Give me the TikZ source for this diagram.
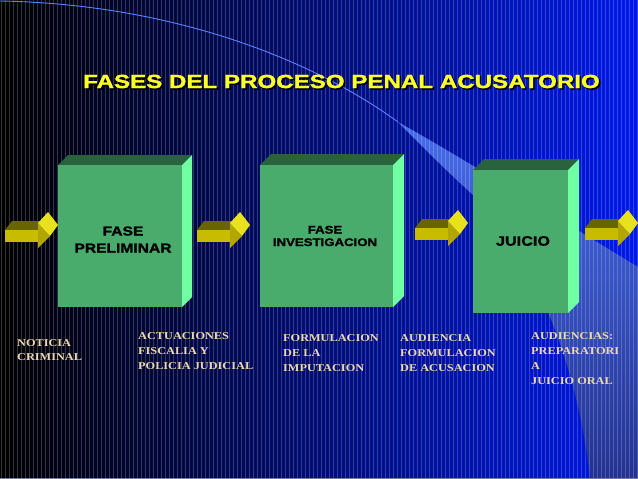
\documentclass[tikz,border=0pt]{standalone}
\usepackage{fontspec}
\newfontfamily\sansX[FakeStretch=1.2,FakeBold=1.6]{Liberation Sans Bold}
\newfontfamily\titleX[FakeStretch=1.27,FakeBold=1.4]{Liberation Sans Bold}
\newfontfamily\serifX[FakeStretch=1.17]{Liberation Serif}
\definecolor{bgmid}{RGB}{16,16,120}
\definecolor{bgright}{RGB}{0,25,235}
\definecolor{curvecol}{RGB}{90,130,255}
\definecolor{regtop}{RGB}{70,108,235}
\definecolor{regmid}{RGB}{42,62,160}
\definecolor{regbot}{RGB}{35,50,145}
\definecolor{boxfront}{RGB}{74,172,108}
\definecolor{boxtop}{RGB}{42,98,62}
\definecolor{boxside}{RGB}{112,255,162}
\definecolor{arrtop}{RGB}{105,100,0}
\definecolor{arrfront}{RGB}{200,188,0}
\definecolor{arrlow}{RGB}{180,166,0}
\definecolor{arrhead}{RGB}{232,226,30}
\definecolor{titlecol}{RGB}{255,255,40}
\definecolor{labcol}{RGB}{236,216,172}
\definecolor{bottomline}{RGB}{120,125,165}
\newcommand\greenbox[5]{%
  \fill[boxtop] (#1,#2) -- (#1+#5,#2-#5) -- (#3+#5,#2-#5) -- (#3,#2) -- cycle;
  \fill[boxside] (#3,#2) -- (#3+#5,#2-#5) -- (#3+#5,#4-#5) -- (#3,#4) -- cycle;
  \fill[boxfront] (#1,#2) rectangle (#3,#4);}
\newcommand\yarrow[2]{%
  \begin{scope}[shift={(#1,#2)}]
  \fill[arrtop] (0,0) -- (7,-9) -- (40,-9) -- (33,0) -- cycle;
  \fill[arrlow] (33,-7) -- (45,6) -- (33,18) -- cycle;
  \fill[arrfront] (0,0) rectangle (33,12);
  \fill[arrhead] (33,-7) -- (43,-18) -- (53,-5) -- (45,6) -- cycle;
  \end{scope}}
\tikzset{
  boxtext/.style={inner sep=0pt, align=center, text=black},
  lab/.style={inner sep=0pt, anchor=north west, align=left, text=labcol,
    font=\serifX\bfseries\fontsize{10.5}{15}\selectfont},
  titletext/.style={inner sep=0pt, font=\titleX\fontsize{19}{22}\selectfont},
}
\begin{document}
\begin{tikzpicture}[x=1pt,y=-1pt]
\useasboundingbox (0,0) rectangle (638,479);
% background
\shade[left color=black, middle color=bgmid, right color=bgright] (0,0) rectangle (638,479);
% lighter swoosh region
\shade[top color=regtop, middle color=regmid, bottom color=regbot]
  (398,122) .. controls (480,168) and (560,220) .. (638,267) -- (638,479) -- (590,479)
  .. controls (580,380) and (540,260) .. (473,195) .. controls (440,165) and (418,142) .. cycle;
% vertical stripes
\foreach \x in {1,5,...,637} \draw[white, opacity=0.2, line width=0.5pt] (\x,0) -- (\x,479);
% thin curve
\draw[curvecol, line width=0.9pt] (0,1) .. controls (170,4) and (310,58) .. (398,122);
\draw[bottomline, line width=1.2pt] (0,478.4) -- (638,478.4);
% title
\node[titletext, text=black] at (343,83) {FASES DEL PROCESO PENAL ACUSATORIO};
\node (title) [titletext, text=titlecol] at (341.5,81.5) {FASES DEL PROCESO PENAL ACUSATORIO};
% boxes
\greenbox{58}{165}{182}{307}{10}
\greenbox{260}{165}{393}{307}{11}
\greenbox{473}{170}{568}{313}{11}
\node (b1) [boxtext, font=\sansX\fontsize{13}{17}\selectfont] at (123,239.5) {FASE\\PRELIMINAR};
\node (b2) [boxtext, font=\sansX\fontsize{11}{12.5}\selectfont] at (325,236) {FASE\\INVESTIGACION};
\node (b3) [boxtext, font=\sansX\fontsize{13.5}{16}\selectfont] at (523,241) {JUICIO};
% arrows
\yarrow{5}{230}
\yarrow{197}{230}
\yarrow{415}{228}
\yarrow{585}{228}
% labels
\node (l1) [lab, font=\serifX\bfseries\fontsize{10.5}{14}\selectfont] at (17,339.5) {NOTICIA\\CRIMINAL};
\node (l2) [lab] at (138,332.5) {ACTUACIONES\\FISCALIA Y\\POLICIA JUDICIAL};
\node (l3) [lab] at (283,334.5) {FORMULACION\\DE LA\\IMPUTACION};
\node (l4) [lab] at (400,334.5) {AUDIENCIA\\FORMULACION\\DE ACUSACION};
\node (l5) [lab] at (531,332.5) {AUDIENCIAS:\\PREPARATORI\\A\\JUICIO ORAL};
\end{tikzpicture}
\end{document}
